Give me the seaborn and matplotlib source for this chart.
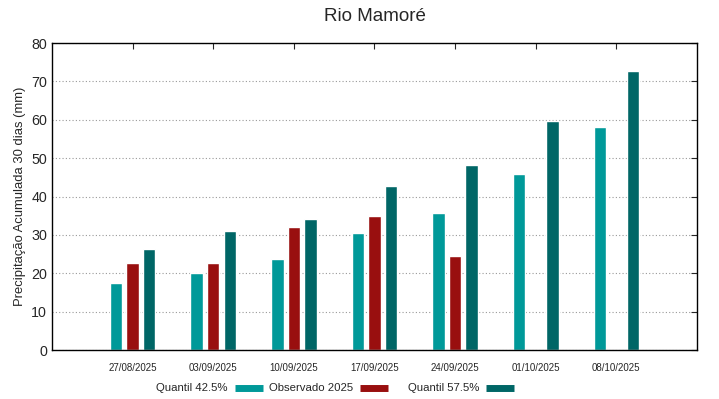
import seaborn as sns
import pandas as pd
import matplotlib.pyplot as plt
import numpy as np
from matplotlib.lines import Line2D

dates = ['27/08/2025', '03/09/2025', '10/09/2025', '17/09/2025',
         '24/09/2025', '01/10/2025', '08/10/2025']
q425 = [17.4, 20.0, 23.6, 30.4, 35.6, 45.8, 58.2]
obs2025 = [22.7, 22.6, 32.1, 35.0, 24.4, np.nan, np.nan]
q575 = [26.3, 30.9, 34.2, 42.8, 48.1, 59.8, 72.8]
series = ['Quantil 42.5%', 'Observado 2025', 'Quantil 57.5%']
colors = ['#009999', '#990f0f', '#006666']

df = pd.DataFrame({'date': dates * 3,
                   'valor': q425 + obs2025 + q575,
                   'serie': [s for s in series for _ in dates]})

sns.set_style('white')
plt.rcParams['font.family'] = ['Liberation Sans', 'DejaVu Sans']

fig = plt.figure(figsize=(7.19, 3.99), dpi=100)
ax = fig.add_axes([0.0723, 0.1228, 0.8971, 0.7694])

sns.barplot(data=df, x='date', y='valor', hue='serie', hue_order=series,
            order=dates, palette=colors, width=0.615, gap=0.245,
            dodge=True, ax=ax, legend=False, saturation=1)

ax.set_xlim(-1, 7)
ax.set_ylim(0, 80)
ax.set_yticks(range(0, 81, 10))
ax.yaxis.grid(True, linestyle=(0, (1, 2)), color='#999999', linewidth=0.8)
ax.set_axisbelow(True)
ax.set_xlabel('')
ax.set_ylabel('Precipitação Acumulada 30 dias (mm)', fontsize=9.4)
ax.tick_params(axis='y', labelsize=10.3, direction='in', right=True, length=4)
ax.tick_params(axis='x', labelsize=7, direction='in', top=True, length=4, pad=9)
for s in ax.spines.values():
    s.set_color('black')
    s.set_linewidth(1)

ax.set_title('Rio Mamoré', fontsize=13.5, pad=16)

# key laid out like the gnuplot one: label, then sample
key_y = 1 - 388 / 399
key_right = [228, 353, 479]
for name, col, xr in zip(series, colors, key_right):
    fig.text(xr / 719, key_y, name, ha='right', va='center', fontsize=8.2)
    fig.add_artist(Line2D([(xr + 7) / 719, (xr + 35) / 719], [key_y, key_y],
                          color=col, lw=5, solid_capstyle='butt',
                          transform=fig.transFigure))

fig.savefig('out.png', dpi=100)
